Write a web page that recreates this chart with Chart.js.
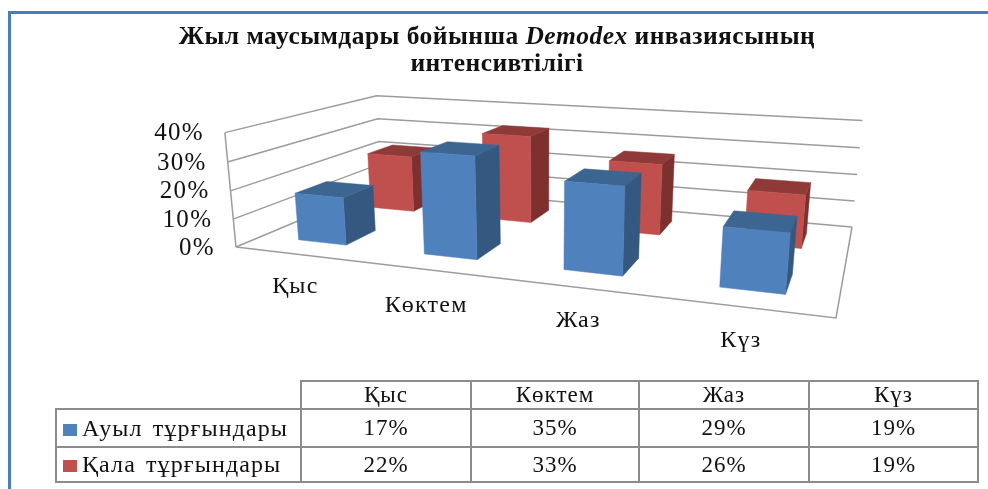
<!DOCTYPE html>
<html lang="kk"><head><meta charset="utf-8">
<script src="https://cdn.jsdelivr.net/npm/chart.js@4/dist/chart.umd.min.js"></script>
<style>
html,body{margin:0;padding:0;background:#fff;width:988px;height:489px;overflow:hidden;font-family:"Liberation Serif",serif;color:#111}
#frame{position:absolute;left:8px;top:11px;right:-5px;bottom:-5px;border:3px solid #4a7ebb;box-sizing:border-box}
#wrap{position:absolute;left:0;top:0;width:988px;height:489px}
#title{position:absolute;left:97px;width:800px;top:22px;text-align:center;font-weight:bold;font-size:25.5px;line-height:27px;letter-spacing:.45px}
table{position:absolute;left:55px;top:380px;border-collapse:collapse;table-layout:fixed;width:922px;font-size:23px}
td{border:2px solid #8c8c8c;text-align:center;padding:0;white-space:nowrap;letter-spacing:1px}
td.blank{border-top:none;border-left:none}
td.name{text-align:left;padding-left:6px;font-size:24px;letter-spacing:1.1px;word-spacing:3px}
.sw{display:inline-block;width:14px;height:12px;margin-right:5px}
#wrap,#title,table{filter:blur(.35px)}
</style></head><body>
<div id="frame"></div>
<div id="wrap"><canvas id="c" width="988" height="489"></canvas></div>
<div id="title">Жыл маусымдары бойынша <i>Demodex</i> инвазиясының<br>интенсивтілігі</div>
<table id="tbl"></table>
<script>
const categories = ["Қыс","Көктем","Жаз","Күз"];
const seriesNames = ["Ауыл тұрғындары","Қала тұрғындары"];
const ruralValues = [17,35,29,19];
const urbanValues = [22,33,26,19];
const yMax = 40, yStep = 10;

const palette = [
 {front:"#4f81bd",side:"#34587f",top:"#3c6591"},
 {front:"#c0504d",side:"#7d302e",top:"#8f3a38"}
];
// Camera: floor corners (FL, FR, BR, BL) and the vertical-axis column
const floorQuad = [[236,247],[836,318],[852,227],[381,186]];
const vertical = {X:-19,Y:-119,W:-.035};
const labelNudge = [[-2,32],[-4,36],[0,33],[-4,33]];

function camera(q,V){
  const [[x0,y0],[x1,y1],[x2,y2],[x3,y3]] = q;
  const dx1=x1-x2,dx2=x3-x2,dx3=x0-x1+x2-x3,dy1=y1-y2,dy2=y3-y2,dy3=y0-y1+y2-y3;
  const d=dx1*dy2-dx2*dy1, g=(dx3*dy2-dx2*dy3)/d, h=(dx1*dy3-dx3*dy1)/d;
  const a=x1-x0+g*x1,b=x3-x0+h*x3,c=x0,e=y1-y0+g*y1,f=y3-y0+h*y3,k=y0;
  return (u,v,z)=>{const w=g*u+h*v+1+V.W*z;return [(a*u+b*v+c+V.X*z)/w,(e*u+f*v+k+V.Y*z)/w];};
}
const P=camera(floorQuad,vertical);
function poly(ctx,pts,fill){ctx.beginPath();pts.forEach((p,i)=>i?ctx.lineTo(p[0],p[1]):ctx.moveTo(p[0],p[1]));ctx.closePath();ctx.fillStyle=fill;ctx.fill();ctx.strokeStyle=fill;ctx.lineWidth=.5;ctx.stroke();}
function path(ctx,pts){ctx.beginPath();pts.forEach((p,i)=>i?ctx.lineTo(p[0],p[1]):ctx.moveTo(p[0],p[1]));ctx.stroke();}

const box3d = {
  id:"box3d",
  beforeDatasetsDraw(chart){
    const ctx=chart.ctx,A=chart.chartArea,ys=chart.scales.y;
    const zOf=px=>(A.bottom-px)/(A.bottom-A.top), uOf=px=>(px-A.left)/(A.right-A.left);
    ctx.save();
    // walls
    ctx.strokeStyle="#9c9c9c";ctx.lineWidth=1.5;ctx.lineJoin="miter";
    ys.ticks.forEach(t=>{
      const z=zOf(ys.getPixelForValue(t.value));
      path(ctx,[P(0,0,z),P(0,1,z),P(1,1,z)]);
    });
    path(ctx,[P(0,0,0),P(0,0,1)]);
    path(ctx,[P(0,0,0),P(1,0,0),P(1,1,0)]);
    // y tick labels
    ctx.fillStyle="#111";ctx.font='25px "Liberation Serif"';ctx.letterSpacing="1.3px";ctx.textAlign="right";ctx.textBaseline="middle";
    ys.ticks.forEach(t=>{
      const z=zOf(ys.getPixelForValue(t.value)),p=P(0,0,z);
      ctx.fillText(t.label,p[0]-21,p[1]+1);
    });
    // bars: back series first
    const n=chart.data.datasets.length;
    for(let d=n-1;d>=0;d--){
      const meta=chart.getDatasetMeta(d),c=palette[d];
      const slot=1/n, depth=slot*0.4, v0=(d+.5)*slot-depth/2, v1=v0+depth;
      meta.data.forEach(el=>{
        const u0=uOf(el.x-el.width/2),u1=uOf(el.x+el.width/2),z=zOf(el.y);
        poly(ctx,[P(u1,v0,0),P(u1,v1,0),P(u1,v1,z),P(u1,v0,z)],c.side);
        poly(ctx,[P(u0,v0,z),P(u1,v0,z),P(u1,v1,z),P(u0,v1,z)],c.top);
        poly(ctx,[P(u0,v0,0),P(u1,v0,0),P(u1,v0,z),P(u0,v0,z)],c.front);
      });
    }
    // category labels
    const xs=chart.scales.x;
    ctx.fillStyle="#111";ctx.font='24px "Liberation Serif"';ctx.letterSpacing="1.2px";ctx.textAlign="center";ctx.textBaseline="middle";
    categories.forEach((name,i)=>{
      const p=P(uOf(xs.getPixelForValue(i)),0,0),o=labelNudge[i];
      ctx.fillText(name,p[0]+o[0],p[1]+o[1]);
    });
    ctx.restore();
    return false;
  }
};

new Chart(document.getElementById("c"),{
  type:"bar",
  data:{labels:categories,datasets:[
    {label:seriesNames[0],data:ruralValues,backgroundColor:palette[0].front},
    {label:seriesNames[1],data:urbanValues,backgroundColor:palette[1].front}
  ]},
  options:{
    responsive:false,animation:false,
    layout:{padding:{left:100,right:100,top:100,bottom:100}},
    plugins:{legend:{display:false},title:{display:false},tooltip:{enabled:false}},
    datasets:{bar:{grouped:false,barPercentage:.39,categoryPercentage:1}},
    scales:{
      x:{display:false},
      y:{display:false,min:0,max:yMax,ticks:{stepSize:yStep,callback:v=>v+"%"}}
    }
  },
  plugins:[box3d]
});

// data table
const pct=v=>v+"%";
const rows=[
 `<colgroup><col style="width:245px"><col style="width:170px"><col style="width:168px"><col style="width:170px"><col style="width:169px"></colgroup>`,
 `<tr style="height:27px"><td class="blank"></td>${categories.map(c=>`<td>${c}</td>`).join("")}</tr>`
];
[ruralValues,urbanValues].forEach((vals,i)=>{
  rows.push(`<tr style="height:${i?35:38}px"><td class="name"><span class="sw" style="background:${palette[i].front}"></span>${seriesNames[i]}</td>${vals.map(v=>`<td>${pct(v)}</td>`).join("")}</tr>`);
});
document.getElementById("tbl").innerHTML=rows.join("");
</script>
</body></html>
